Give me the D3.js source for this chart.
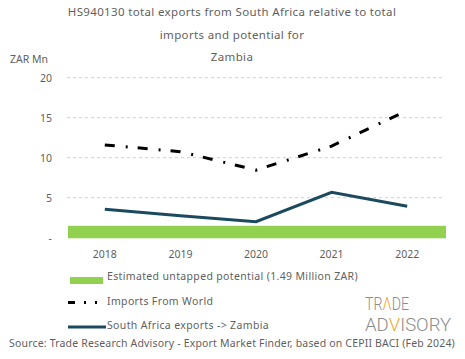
<!DOCTYPE html>
<html><head><meta charset="utf-8">
<script src="https://cdn.jsdelivr.net/npm/d3@7"></script>
<style>
body{margin:0;background:#fff;}
text{font-family:"Noto Sans",sans-serif;fill:#5f5f5f;}
</style></head>
<body>
<svg id="c" width="465" height="359"></svg>
<script>
const years = ["2018","2019","2020","2021","2022"];
const importsWorld = [11.6, 10.75, 8.45, 11.45, 15.9];
const saExports = [3.55, 2.75, 2.0, 5.67, 3.92];
const potential = 1.49;
const yTicks = [0, 5, 10, 15, 20];
const titleLines = ["HS940130 total exports from South Africa relative to total","imports and potential for","Zambia"];
const legendLabels = ["Estimated untapped potential (1.49 Million ZAR)","Imports From World","South Africa exports -> Zambia"];

const svg = d3.select("#c");
const x = d3.scaleBand().domain(years).range([67, 445]);
const y = d3.scaleLinear().domain([0, 20]).range([237.7, 77.7]);

// title
svg.selectAll("text.title").data(titleLines).join("text")
  .attr("class","title").attr("x",232).attr("y",(d,i)=>16+i*22.5)
  .attr("text-anchor","middle").style("font-size","11.5px").style("letter-spacing","0.35px").text(d=>d);

svg.append("text").attr("x",10).attr("y",63).style("font-size","10.5px").text("ZAR Mn");

// grid
svg.append("g").selectAll("line").data(yTicks.filter(d=>d>0)).join("line")
  .attr("x1",67).attr("x2",445).attr("y1",d=>y(d)).attr("y2",d=>y(d))
  .attr("stroke","#d0d0d0").attr("stroke-width",1).attr("stroke-dasharray","3,3");

// y axis labels
const yAxis = d3.axisLeft(y).tickValues(yTicks).tickSize(0).tickPadding(0)
  .tickFormat(d=> d===0 ? "-" : d);
const ga = svg.append("g").attr("transform","translate(52,0)").call(yAxis);
ga.select(".domain").remove();
ga.selectAll("text").style("font-size","10.5px").attr("fill","#5f5f5f").style("font-family","'Noto Sans',sans-serif");

// x axis
const xAxis = d3.axisBottom(x).tickSize(0).tickPadding(0);
const gx = svg.append("g").attr("transform","translate(0,251)").call(xAxis);
gx.select(".domain").remove();
gx.selectAll("text").style("font-size","10.5px").attr("fill","#5f5f5f").style("font-family","'Noto Sans',sans-serif");

// potential bar
svg.append("rect").attr("x",x.range()[0]+1).attr("width",x.range()[1]-x.range()[0])
  .attr("y",y(potential)).attr("height",y(0)-y(potential)+0.6).attr("fill","#92d050");

const line = d3.line().x((d,i)=>x(years[i])+x.bandwidth()/2).y(d=>y(d));
svg.append("path").datum(importsWorld).attr("d",line).attr("fill","none")
  .attr("stroke","#000").attr("stroke-width",3).attr("stroke-dasharray","10,11,2,10");
svg.append("path").datum(saExports).attr("d",line).attr("fill","none")
  .attr("stroke","#1b4a5e").attr("stroke-width",3);

// legend
svg.append("rect").attr("x",70).attr("y",277).attr("width",33).attr("height",7).attr("fill","#92d050");
svg.append("line").attr("x1",68).attr("x2",106).attr("y1",302.5).attr("y2",302.5)
  .attr("stroke","#000").attr("stroke-width",3).attr("stroke-dasharray","7,9,2,9,2,20");
svg.append("line").attr("x1",68).attr("x2",106).attr("y1",327).attr("y2",327)
  .attr("stroke","#1b4a5e").attr("stroke-width",3);
svg.selectAll("text.leg").data(legendLabels).join("text").attr("class","leg")
  .attr("x",107).attr("y",(d,i)=>280+i*24.5).style("font-size","10.5px").style("letter-spacing","0.35px").text(d=>d);

// source
svg.append("text").attr("x",232).attr("y",347).attr("text-anchor","middle")
  .style("font-size","10.5px").style("letter-spacing","0.18px").text("Source: Trade Research Advisory - Export Market Finder, based on CEPII BACI (Feb 2024)");

// logo
function logoWord(parts, x0, y0, w) {
  const t = svg.append("text").attr("x",0).attr("y",0)
    .style("font-size","18px").style("font-family","Roboto,sans-serif").style("font-weight","300");
  parts.forEach(p => t.append("tspan").attr("fill", p[1]).style("fill", p[1]).text(p[0]));
  const bw = t.node().getComputedTextLength();
  t.attr("transform", `translate(${x0},${y0}) scale(${w/bw},1)`);
}
logoWord([["TR","#8c8c8c"],["Λ","#f5a623"],["DE","#8c8c8c"]], 365, 309.5, 44);
logoWord([["AD","#8c8c8c"],["V","#f5a623"],["ISORY","#8c8c8c"]], 365, 330.5, 86);
</script>
</body></html>
